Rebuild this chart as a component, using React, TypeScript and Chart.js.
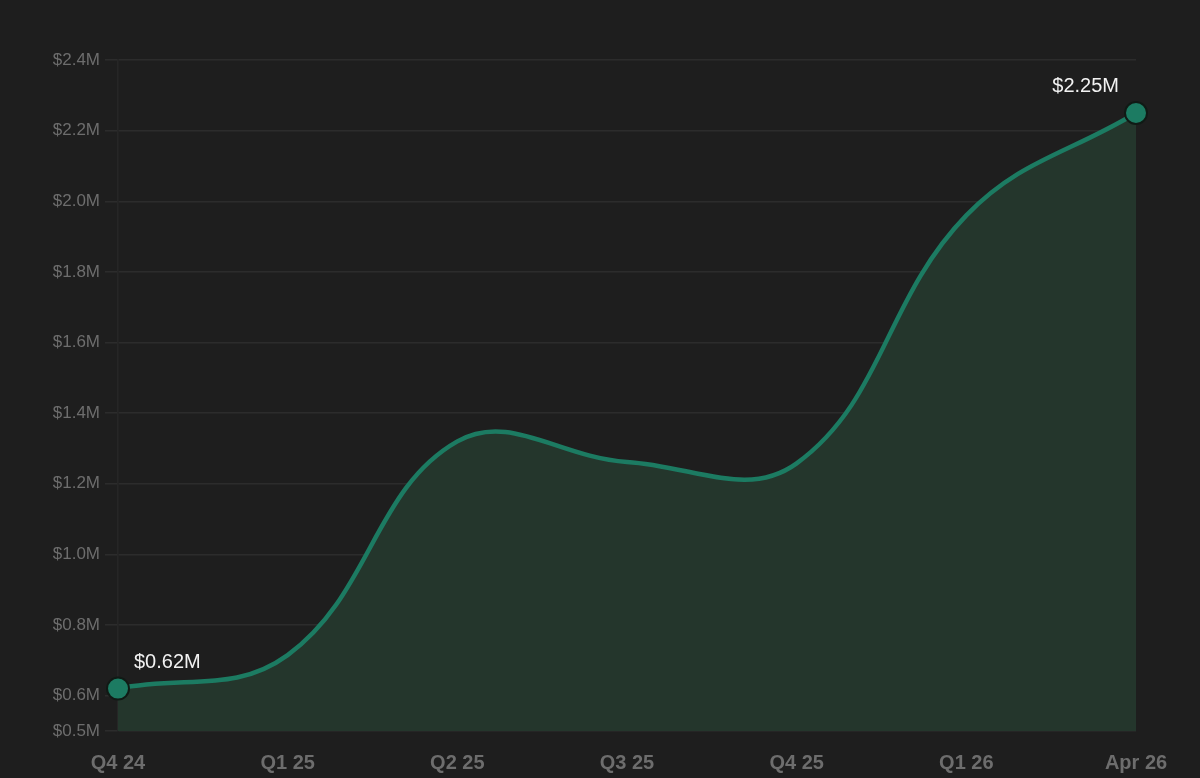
import React, { useEffect, useRef } from "react";
import { Chart, registerables } from "chart.js";

Chart.register(...registerables);

const quarters = ["Q4 24", "Q1 25", "Q2 25", "Q3 25", "Q4 25", "Q1 26", "Apr 26"];
const revenue = [0.62, 0.715, 1.32, 1.262, 1.258, 1.96, 2.25];
const yTicks = [0.5, 0.6, 0.8, 1.0, 1.2, 1.4, 1.6, 1.8, 2.0, 2.2, 2.4];
const endLabels = ["$0.62M", "$2.25M"];

const BG = "#1e1e1e";
const LINE = "#1c7b62";
const FILL = "#24362c";
const GRID = "#2c2c2c";
const TICK = "#6d6d6d";
const FONT = '"Liberation Sans", Arial, sans-serif';

const endLabelPlugin = {
  id: "endLabels",
  afterDatasetsDraw(chart: any) {
    const meta = chart.getDatasetMeta(0);
    const pts = meta.data;
    const first = pts[0];
    const last = pts[pts.length - 1];
    const ctx = chart.ctx;
    ctx.save();
    ctx.fillStyle = "#f2f2f2";
    ctx.font = `20px ${FONT}`;
    ctx.textBaseline = "middle";
    ctx.textAlign = "left";
    ctx.fillText(endLabels[0], first.x + 16, first.y - 26);
    ctx.textAlign = "right";
    ctx.fillText(endLabels[1], last.x - 17, last.y - 26);
    ctx.restore();
  },
};

export default function App() {
  const ref = useRef<HTMLCanvasElement | null>(null);

  useEffect(() => {
    document.body.style.margin = "0";
    document.body.style.background = BG;
    const canvas = ref.current;
    if (!canvas) return;
    const lastIdx = revenue.length - 1;
    const chart = new Chart(canvas, {
      type: "line",
      data: {
        labels: quarters,
        datasets: [
          {
            data: revenue,
            borderColor: LINE,
            borderWidth: 4.5,
            backgroundColor: FILL,
            fill: "start",
            tension: 0.4,
            pointRadius: (c: any) => (c.dataIndex === 0 || c.dataIndex === lastIdx ? 11 : 0),
            pointBackgroundColor: LINE,
            pointBorderColor: "#101a15",
            pointBorderWidth: 2,
            clip: false as any,
          },
        ],
      },
      options: {
        animation: false,
        responsive: false,
        maintainAspectRatio: false,
        layout: { padding: { top: 60, right: 64, left: 0, bottom: 0 } },
        plugins: {
          legend: { display: false },
          tooltip: { enabled: false },
        },
        scales: {
          x: {
            offset: false,
            grid: { display: false },
            border: { display: false },
            ticks: {
              autoSkip: false,
              maxRotation: 0,
              padding: 12,
              color: TICK,
              font: { family: FONT, size: 20, weight: "bold" },
            },
            afterFit: (s: any) => {
              s.height = 47;
            },
          },
          y: {
            min: 0.5,
            max: 2.4,
            grid: { color: GRID, lineWidth: 1.5, tickLength: 13, drawTicks: true },
            border: { display: true, color: "#262626", width: 1.5 },
            afterBuildTicks: (s: any) => {
              s.ticks = yTicks.map((v) => ({ value: v }));
            },
            ticks: {
              padding: 5,
              color: TICK,
              font: { family: FONT, size: 17 },
              callback: (v: any) => `$${Number(v).toFixed(1)}M`,
            },
            afterFit: (s: any) => {
              s.width = 118;
            },
          },
        },
      },
      plugins: [endLabelPlugin],
    });
    return () => chart.destroy();
  }, []);

  return (
    <div style={{ position: "fixed", left: 0, top: 0, width: 1200, height: 778, background: BG }}>
      <canvas ref={ref} width={1200} height={778} style={{ width: 1200, height: 778, display: "block" }} />
    </div>
  );
}
